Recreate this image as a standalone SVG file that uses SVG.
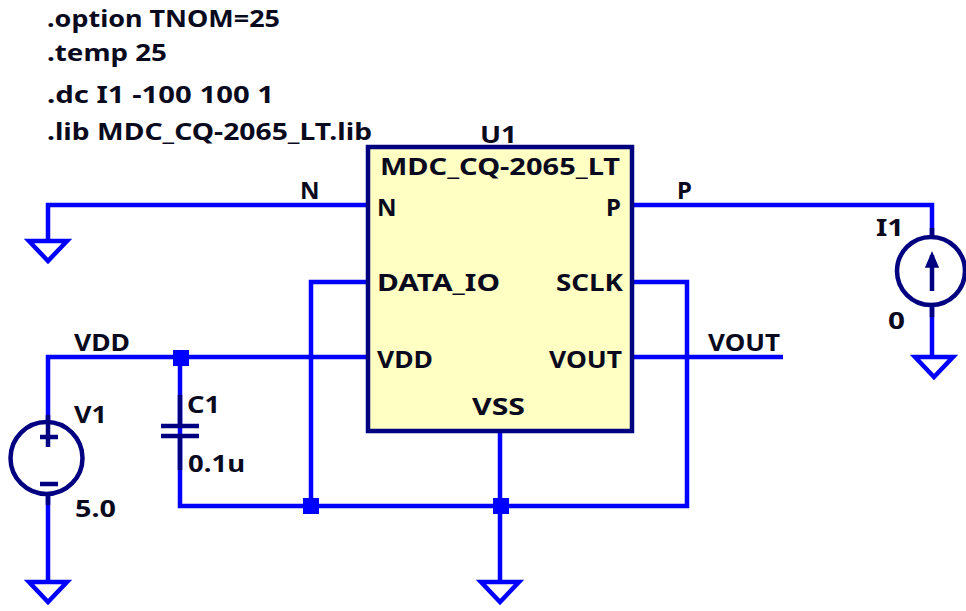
<svg xmlns="http://www.w3.org/2000/svg" width="966" height="611" viewBox="0 0 966 611">
<style>
text{font-family:"Noto Sans","Liberation Sans",sans-serif;font-weight:700;font-size:24px;fill:#0a0a1e}
.w{fill:none;stroke:#0000ff;stroke-width:4.5;stroke-linejoin:miter}
.s{fill:none;stroke:#000080;stroke-width:4.5}
.j{fill:#0000ff}
.g{fill:none;stroke:#0000ff;stroke-width:4.5;stroke-linejoin:miter}
</style>
<defs><path id="gnd" class="g" d="M-19 0H19L0 20Z"/></defs>
<rect width="966" height="611" fill="#fff"/>
<g id="directives">
<text x="47" y="27" textLength="233" lengthAdjust="spacingAndGlyphs">.option TNOM=25</text>
<text x="47" y="61" textLength="120" lengthAdjust="spacingAndGlyphs">.temp 25</text>
<text x="47" y="103" textLength="227" lengthAdjust="spacingAndGlyphs">.dc I1 -100 100 1</text>
<text x="47" y="140" textLength="325" lengthAdjust="spacingAndGlyphs">.lib MDC_CQ-2065_LT.lib</text>
</g>
<g id="connectors">
<path class="w" d="M368 205H48V241"/>
<path class="w" d="M632 205H932V235M932 307V357"/>
<path class="w" d="M368 282H311V506"/>
<path class="w" d="M632 282H687V506H180V358"/>
<path class="w" d="M48 420V357H368"/>
<path class="w" d="M632 357H783"/>
<path class="w" d="M500 431V581"/>
<path class="w" d="M48 496V581"/>
<rect class="j" x="173" y="350" width="16" height="16"/>
<rect class="j" x="303" y="498" width="16" height="16"/>
<rect class="j" x="493" y="498" width="16" height="16"/>
</g>
<g id="U1">
<rect x="368" y="147" width="264" height="284" fill="#ffffc4" stroke="#000080" stroke-width="4.5"/>
<text x="480" y="143" textLength="37" lengthAdjust="spacingAndGlyphs">U1</text>
<text x="380" y="175" textLength="240" lengthAdjust="spacingAndGlyphs">MDC_CQ-2065_LT</text>
<text x="377" y="216">N</text>
<text x="606" y="216">P</text>
<text x="377" y="291" textLength="123" lengthAdjust="spacingAndGlyphs">DATA_IO</text>
<text x="556" y="291" textLength="67" lengthAdjust="spacingAndGlyphs">SCLK</text>
<text x="377" y="368" textLength="56" lengthAdjust="spacingAndGlyphs">VDD</text>
<text x="549" y="368" textLength="73" lengthAdjust="spacingAndGlyphs">VOUT</text>
<text x="472" y="415" textLength="53" lengthAdjust="spacingAndGlyphs">VSS</text>
</g>
<g id="V1">
<circle class="s" cx="46.5" cy="458" r="36"/>
<path class="s" d="M48 415V447M40 437H58M40 484H58M48 494V505"/>
<text x="74" y="423" textLength="33" lengthAdjust="spacingAndGlyphs">V1</text>
<text x="75" y="517" textLength="41" lengthAdjust="spacingAndGlyphs">5.0</text>
</g>
<g id="C1">
<path class="s" d="M180 395V425M180 437V470"/>
<path class="s" stroke-width="4" d="M161 426H199M161 436H199"/>
<text x="187" y="413" textLength="33" lengthAdjust="spacingAndGlyphs">C1</text>
<text x="188" y="472" textLength="57" lengthAdjust="spacingAndGlyphs">0.1u</text>
</g>
<g id="I1">
<circle class="s" cx="931" cy="271" r="34"/>
<path class="s" d="M932 228V236M932 255V291M932 306V317"/>
<path fill="#000080" stroke="#000080" stroke-width="1.5" d="M932 253L938 267H926Z"/>
<text x="876" y="236" textLength="28" lengthAdjust="spacingAndGlyphs">I1</text>
<text x="888" y="329" textLength="17" lengthAdjust="spacingAndGlyphs">0</text>
</g>
<g id="nets">
<text x="300" y="199">N</text>
<text x="677" y="199">P</text>
<text x="74" y="351" textLength="56" lengthAdjust="spacingAndGlyphs">VDD</text>
<text x="708" y="351" textLength="72" lengthAdjust="spacingAndGlyphs">VOUT</text>
</g>
<g id="gnd1"><use href="#gnd" x="48" y="241"/></g>
<g id="gnd2"><use href="#gnd" x="48" y="582"/></g>
<g id="gnd3"><use href="#gnd" x="500" y="582"/></g>
<g id="gnd4"><use href="#gnd" x="934" y="357"/></g>
</svg>
